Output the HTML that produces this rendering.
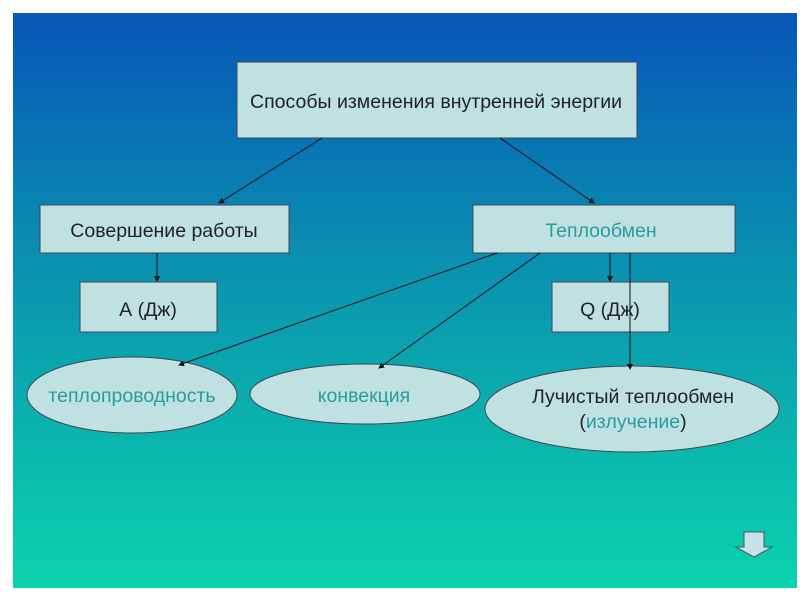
<!DOCTYPE html>
<html><head><meta charset="utf-8"><style>
body{margin:0;width:800px;height:600px;background:#fff;overflow:hidden}
</style></head><body>
<svg width="800" height="600" xmlns="http://www.w3.org/2000/svg" font-family="Liberation Sans, DejaVu Sans, sans-serif">
<defs>
<linearGradient id="g" x1="0" y1="0" x2="0" y2="1">
<stop offset="0" stop-color="#0756b8"/>
<stop offset="0.45" stop-color="#0a93b0"/>
<stop offset="1" stop-color="#0ad3ad"/>
</linearGradient>
<marker id="a" markerWidth="6" markerHeight="6" refX="5" refY="3" orient="auto"><path d="M0,0 L6,3 L0,6 z" fill="#111"/></marker>
</defs>
<rect x="13" y="13" width="784" height="575" fill="url(#g)"/>
<g fill="#bfe1e2" stroke="#445" stroke-width="1">
<rect x="237" y="62" width="400" height="76"/>
<rect x="40" y="205" width="249" height="48"/>
<rect x="473" y="205" width="262" height="48"/>
<rect x="80" y="282" width="137" height="50"/>
<rect x="552" y="282" width="117" height="50"/>
<ellipse cx="132" cy="395" rx="105" ry="38"/>
<ellipse cx="365" cy="394" rx="115" ry="30"/>
<ellipse cx="632" cy="409" rx="147" ry="43"/>
</g>
<g stroke="#111" stroke-width="1" marker-end="url(#a)">
<line x1="322" y1="138" x2="219" y2="203"/>
<line x1="500" y1="138" x2="594" y2="203"/>
<line x1="157" y1="253" x2="157" y2="281"/>
<line x1="497" y1="253" x2="179" y2="365"/>
<line x1="540" y1="253" x2="379" y2="368"/>
<line x1="610" y1="253" x2="610" y2="281"/>
<line x1="630" y1="253" x2="630" y2="369"/>
</g>
<g font-size="19.5" text-anchor="middle" fill="#222">
<text x="436" y="108" textLength="372" lengthAdjust="spacingAndGlyphs">Способы изменения внутренней энергии</text>
<text x="164" y="237">Совершение работы</text>
<text x="601" y="237" fill="#2a9c9e">Теплообмен</text>
<text x="148" y="316">А (Дж)</text>
<text x="610" y="316">Q (Дж)</text>
<text x="132" y="402" fill="#2a9c9e">теплопроводность</text>
<text x="364" y="402" fill="#2a9c9e">конвекция</text>
<text x="633" y="403">Лучистый теплообмен</text>
<text x="633" y="428">(<tspan fill="#2a9c9e">излучение</tspan>)</text>
</g>
<path d="M744,532 H764 V547 H772 L754,557 L736,547 H744 Z" fill="#c8e2e8" stroke="#456" stroke-width="1"/>
</svg>
</body></html>
